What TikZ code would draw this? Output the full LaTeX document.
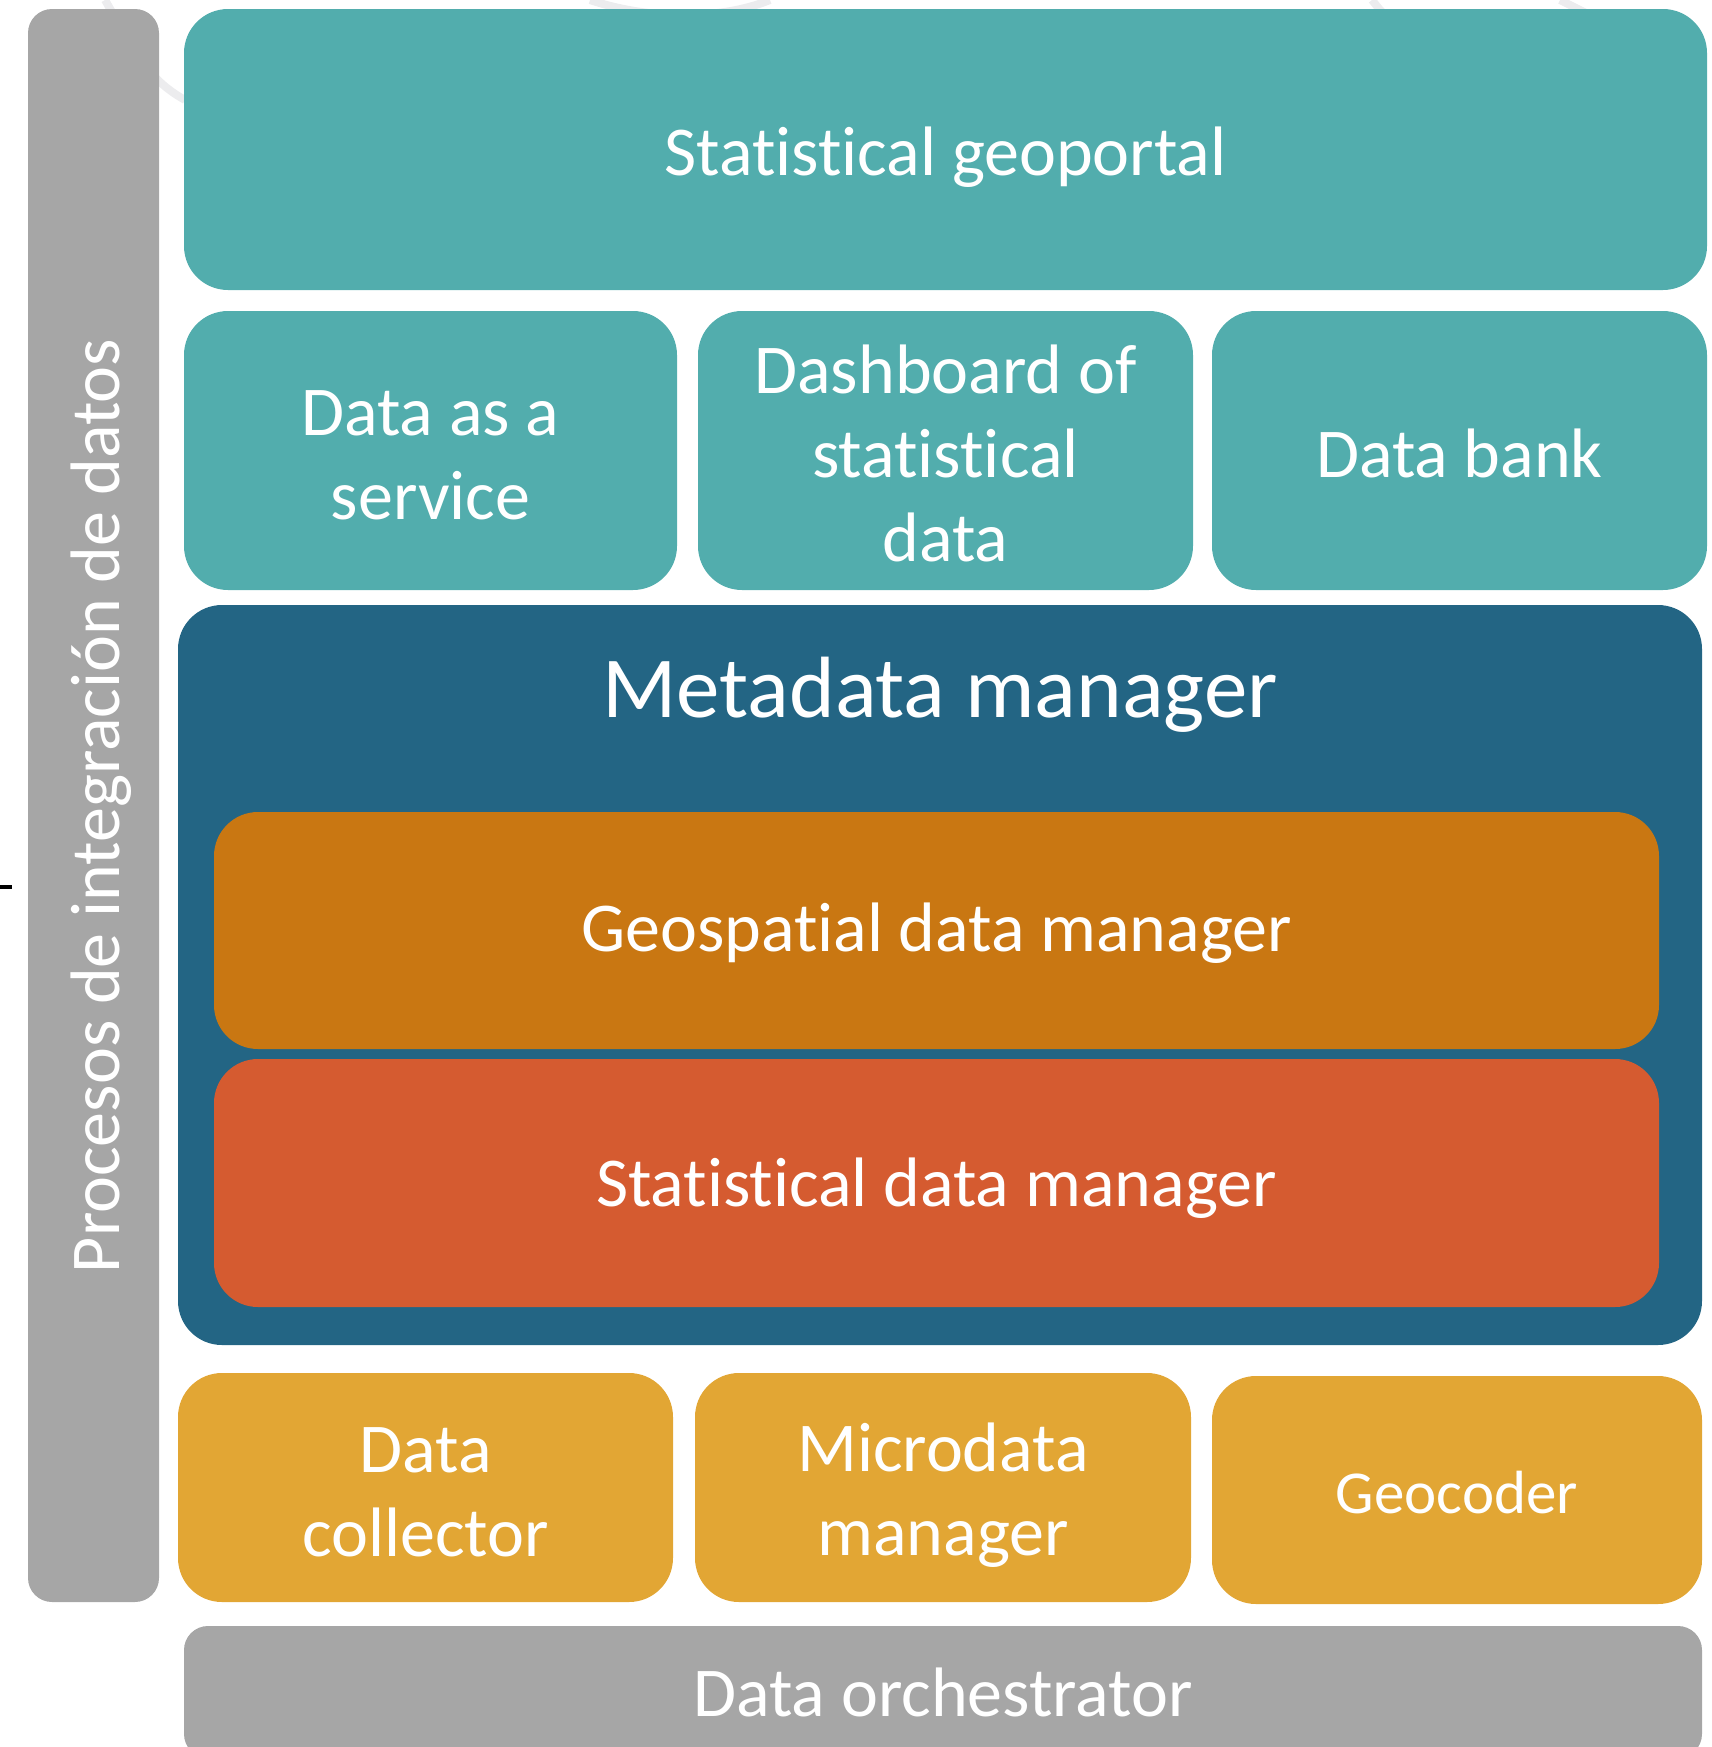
\documentclass[tikz,border=0pt]{standalone}
\usepackage{fontspec}
\setmainfont[Ligatures={NoCommon,NoDiscretionary,NoContextual}]{Carlito}
\definecolor{teal}{RGB}{82,173,173}
\definecolor{metablue}{RGB}{35,101,132}
\definecolor{geoorange}{RGB}{201,119,18}
\definecolor{statorange}{RGB}{213,91,48}
\definecolor{yellowbox}{RGB}{226,166,52}
\definecolor{greybox}{RGB}{166,166,166}
\definecolor{faint}{RGB}{236,236,238}
\begin{document}
\begin{tikzpicture}[x=0.5pt,y=-0.5pt,
  box/.style={draw=none, rounded corners=22pt, inner sep=0pt},
  tealbox/.style={box, fill=teal},
  yelbox/.style={box, fill=yellowbox},
  greyb/.style={box, fill=greybox, rounded corners=12pt},
  lbl/.style={text=white, align=center, inner sep=0pt, font=\fontsize{35}{42}\selectfont}]
\useasboundingbox (0,0) rectangle (1712,1747);
\clip (0,0) rectangle (1712,1747);
% faint background decoration
\begin{scope}[faint, line width=4pt]
\draw (105,0) .. controls (140,60) and (150,80) .. (185,100);
\draw (590,0) .. controls (650,20) and (720,20) .. (770,0);
\draw (1372,0) .. controls (1380,10) .. (1385,15);
\draw (1560,0) .. controls (1580,10) .. (1600,20);
\end{scope}
% left grey bar
\node[greyb, minimum width=65.5pt, minimum height=796.5pt] (proc) at (93.5,805.5) {};
\node[lbl, rotate=90] (proctext) at (101,806) {Procesos de integración de datos};
% top
\node[tealbox, minimum width=761.5pt, minimum height=140.5pt] (geoportal) at (945.5,149.5) {};
\node[lbl] (geoportaltext) at (945.5,157) {Statistical geoportal};
\node[tealbox, minimum width=246.5pt, minimum height=139.5pt] (daas) at (430.5,450.5) {};
\node[lbl] (daastext) at (430.5,455) {Data as a\\service};
\node[tealbox, minimum width=247.5pt, minimum height=139.5pt] (dash) at (945.5,450.5) {};
\node[lbl] (dashtext) at (945.5,453) {Dashboard of\\statistical\\data};
\node[tealbox, minimum width=247.5pt, minimum height=139.5pt] (bank) at (1459.5,450.5) {};
\node[lbl] (banktext) at (1459.5,453) {Data bank};
% metadata manager
\node[box, fill=metablue, minimum width=762pt, minimum height=370pt] (meta) at (940,975) {};
\node[lbl, font=\fontsize{43.5}{52}\selectfont] (metatitle) at (940,695) {Metadata manager};
\node[box, fill=geoorange, minimum width=722.5pt, minimum height=118.5pt] (geodm) at (936.5,930.5) {};
\node[lbl] (geodmtext) at (936.5,933) {Geospatial data manager};
\node[box, fill=statorange, minimum width=722.5pt, minimum height=124pt] (statdm) at (936.5,1183) {};
\node[lbl] (statdmtext) at (936.5,1188) {Statistical data manager};
% bottom row
\node[yelbox, minimum width=247.5pt, minimum height=114.5pt] (collector) at (425.5,1487.5) {};
\node[lbl] (collectortext) at (425.5,1492) {Data\\collector};
\node[yelbox, minimum width=248pt, minimum height=114.5pt] (micro) at (943,1487.5) {};
\node[lbl] (microtext) at (943,1495) {Microdata\\manager};
\node[yelbox, minimum width=245pt, minimum height=114pt] (geocoder) at (1457,1490) {};
\node[lbl, font=\fontsize{30.5}{37}\selectfont] (geocodertext) at (1457,1493) {Geocoder};
\node[greyb, minimum width=759pt, minimum height=66pt] (orch) at (943,1692) {};
\node[lbl] (orchtext) at (943,1692) {Data orchestrator};
% stray mark at left
\coordinate (m1) at (0,887);
\coordinate (m2) at (12,887);
\draw[line width=2pt] (m1) -- (m2);
\end{tikzpicture}
\end{document}
